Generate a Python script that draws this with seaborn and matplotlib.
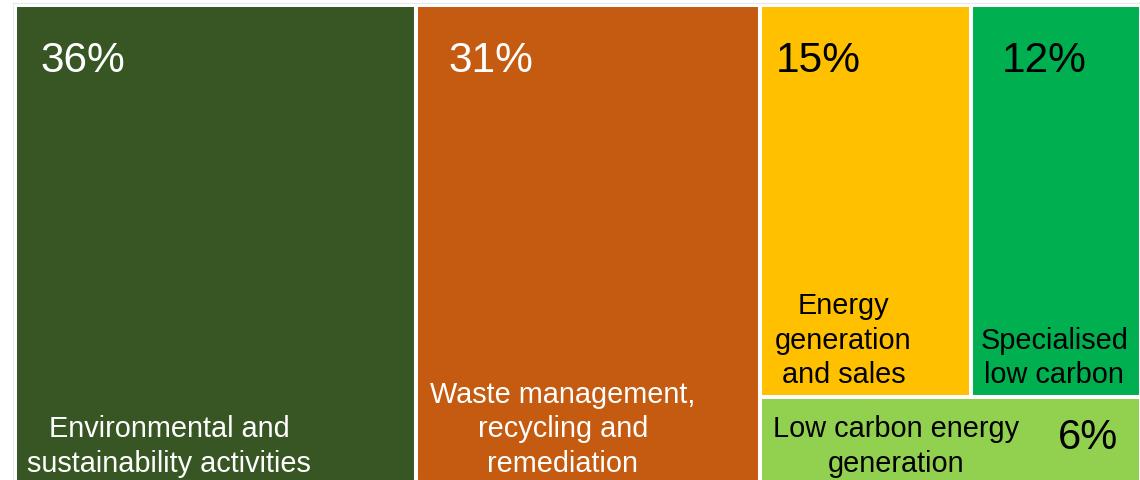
import numpy as np
import seaborn as sns
import matplotlib.pyplot as plt

# share of each sector (block areas), and the labels printed on them
sectors = ['Environmental and\nsustainability activities',
           'Waste management,\nrecycling and\nremediation',
           'Energy\ngeneration\nand sales',
           'Specialised\nlow carbon',
           'Low carbon energy\ngeneration']
shares = [35.6, 30.6, 15.4, 12.4, 6.0]
pct_labels = ['36%', '31%', '15%', '12%', '6%']

colors = ['#375623', '#C55A11', '#FFC000', '#00B050', '#92D050']
text_colors = ['white', 'white', 'black', 'black', 'black']

sns.set_theme(style='white')
plt.rcParams['font.family'] = ['Liberation Sans', 'DejaVu Sans']

# treemap layout: two full-height columns, then a column split into
# a top row (two blocks) and a bottom block
total = sum(shares)
rects = []
x = 0.0
for v in shares[:2]:
    w = v / total * 100
    rects.append((x, 0.0, w, 1.0))
    x += w
rest = shares[2:]
w_rest = sum(rest) / total * 100
h_top = (rest[0] + rest[1]) / sum(rest)
xx = x
for v in rest[:2]:
    w = v / (rest[0] + rest[1]) * w_rest
    rects.append((xx, 1.0 - h_top, w, h_top))
    xx += w
rects.append((x, 0.0, w_rest, 1.0 - h_top))

W, H = 1140, 481
fig = plt.figure(figsize=(W / 100, H / 100), dpi=100)
# axes in pixel units: left 13, right 1141, top 4, bottom 483
ax = fig.add_axes([13 / W, (H - 483) / H, (1141 - 13) / W, (483 - 4) / H])

xs = [r[0] for r in rects]
ys = [r[1] for r in rects]
ws = [r[2] for r in rects]
hs = [r[3] for r in rects]
ax.bar(xs, hs, width=ws, bottom=ys, align='edge', color=colors,
       edgecolor='white', linewidth=2.9)

px = (1141 - 15) / 100
py = 483 - 6
ax.set_xlim(-2 / px, 100)
ax.set_ylim(0, 1 + 2 / py)
ax.set_xticks([])
ax.set_yticks([])
for s in ax.spines.values():
    s.set_color('#e8e8e8')
    s.set_linewidth(0.8)

# text offsets in pixels from the block corners
pct_off = [(25, -66), (33, -66), (15, -66), (31, -66), (297, -51)]
pct_size = [30.5, 30.5, 30.5, 30.5, 30]
lab_off = [(154, 11), (147, 11), (83, 15), (83, 15), (136, 11)]
lab_size = [20.8, 20.8, 20.8, 20.8, 20.8]

for i, (x0, y0, w, h) in enumerate(rects):
    ax.annotate(pct_labels[i], xy=(x0, y0 + h), xytext=pct_off[i],
                textcoords='offset pixels', ha='left', va='baseline',
                fontsize=pct_size[i], color=text_colors[i])
    ax.annotate(sectors[i], xy=(x0, y0), xytext=lab_off[i],
                textcoords='offset pixels', ha='center', va='baseline',
                multialignment='center', linespacing=1.3,
                fontsize=lab_size[i], color=text_colors[i])

fig.savefig('out.png', dpi=100)
